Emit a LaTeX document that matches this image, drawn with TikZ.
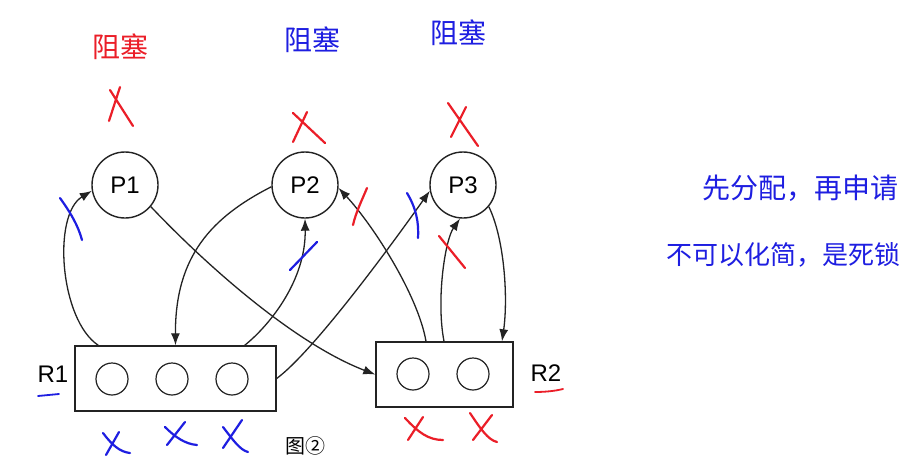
\documentclass[tikz,border=0pt]{standalone}
\usepackage{fontspec}
\setmainfont{Liberation Sans}
\newfontfamily\cjk{Noto Sans CJK SC}
\usetikzlibrary{arrows.meta}
\definecolor{hred}{RGB}{235,30,40}
\definecolor{hblue}{RGB}{30,30,225}
\definecolor{ink}{RGB}{35,35,35}
\begin{document}
\begin{tikzpicture}[x=1pt,y=1pt,
  proc/.style={circle,draw=ink,line width=1.4pt,minimum size=66pt,inner sep=0pt,font=\fontsize{24}{26}\selectfont},
  res/.style={rectangle,draw=ink,line width=1.4pt,inner sep=0pt},
  unit/.style={circle,draw=ink,line width=1.2pt,minimum size=32pt,inner sep=0pt},
  lab/.style={font=\fontsize{24}{26}\selectfont,inner sep=0pt},
  edge/.style={draw=ink,line width=1.3pt,-{Latex[length=12pt,width=9pt]}},
  hand/.style={line width=2.2pt,line cap=round},
  note/.style={font=\cjk\fontsize{28}{30}\selectfont,inner sep=0pt}]
\fill[white] (0,0) rectangle (921,-474);
\useasboundingbox (0,0) rectangle (921,-474);

% processes
\node[proc] (P1) at (125,-185) {P1};
\node[proc] (P2) at (305,-185) {P2};
\node[proc] (P3) at (463,-185) {P3};

% resources
\node[res,minimum width=201pt,minimum height=65pt] (R1) at (175.5,-378.5) {};
\node[unit] (u1) at (112,-379) {};
\node[unit] (u2) at (172,-379) {};
\node[unit] (u3) at (232,-379) {};
\node[res,minimum width=137pt,minimum height=65pt] (R2) at (444.5,-374.5) {};
\node[unit] (u4) at (413,-374) {};
\node[unit] (u5) at (473,-374) {};

\node[lab] (L1) at (53,-374) {R1};
\node[lab] (L2) at (546,-373) {R2};
\node[font=\cjk\fontsize{20}{22}\selectfont] (cap) at (305,-446) {图②};

% edges
\draw[edge] ([xshift=24pt]R1.north west) .. controls (60,-320) and (52,-215) .. (P1.190);
\draw[edge] (P1.-40) .. controls (210,-269) and (296,-344) .. (R2.west);
\draw[edge] (P2.183) .. controls (212,-217) and (175,-256) .. (R1.north);
\draw[edge] ([xshift=-32pt]R1.north east) .. controls (270,-325) and (306,-280) .. (P2.south);
\draw[edge] (R1.east) .. controls (315,-350) and (395,-240) .. (P3.190);
\draw[edge] ([xshift=-18.5pt]R2.north) .. controls (418,-295) and (373,-225) .. (P2.-5);
\draw[edge] ([xshift=-0.5pt]R2.north) .. controls (436,-300) and (445,-240) .. (P3.265);
\draw[edge] (P3.-40) .. controls (505,-240) and (508,-300) .. ([xshift=57.5pt]R2.north);

% hand ticks on edges
\draw[hand,hblue] (60,-198) .. controls (70,-212) and (78,-225) .. (82,-240);
\draw[hand,hblue] (290,-270) -- (317,-242);
\draw[hand,hred] (367,-188) .. controls (362,-200) and (356,-212) .. (353,-225);
\draw[hand,hblue] (407,-193) .. controls (416,-208) and (419,-222) .. (418,-238);
\draw[hand,hred] (439,-236) -- (465,-268);

% hand notes
\node[note,text=hred] (b1) at (120,-47) {阻塞};
\node[note,text=hblue] (b2) at (312,-40) {阻塞};
\node[note,text=hblue] (b3) at (458,-33) {阻塞};
\node[note,text=hblue] (t1) at (800,-188) {先分配，再申请};
\node[note,text=hblue,font=\cjk\fontsize{26}{28}\selectfont] (t2) at (783,-255) {不可以化简，是死锁};

% red crosses above processes
\draw[hand,hred] (120,-87) -- (109,-121) (110,-90) -- (133,-126);
\draw[hand,hred] (307,-112) -- (293,-142) (293,-113) -- (325,-143);
\draw[hand,hred] (466,-107) -- (451,-137) (448,-103) -- (478,-146);

% crosses under resources
\draw[hand,hblue] (119,-432) -- (106,-455) (103,-433) .. controls (112,-445) and (120,-452) .. (130,-453);
\draw[hand,hblue] (185,-422) -- (167,-445) (165,-427) .. controls (175,-437) and (185,-444) .. (197,-445);
\draw[hand,hblue] (242,-420) -- (223,-448) (223,-427) .. controls (233,-440) and (240,-450) .. (248,-452);
\draw[hand,hred] (423,-417) -- (408,-440) (405,-418) .. controls (418,-432) and (428,-440) .. (443,-440);
\draw[hand,hred] (492,-415) -- (473,-440) (470,-413) .. controls (480,-428) and (488,-440) .. (497,-442);

% underlines
\draw[hand,hblue,line width=1.8pt] (38,-396) -- (59,-394);
\draw[hand,hred,line width=1.8pt] (535,-392) .. controls (545,-392) and (555,-391) .. (563,-389);
\end{tikzpicture}
\end{document}
